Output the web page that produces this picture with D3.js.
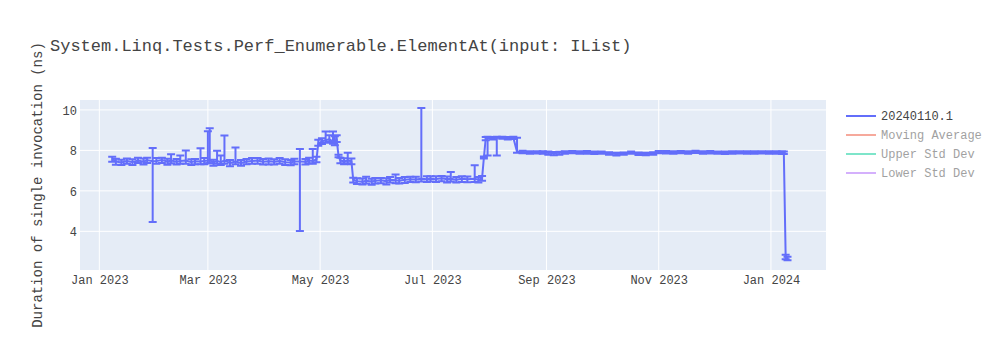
<!DOCTYPE html>
<html>
<head>
<meta charset="utf-8">
<script src="https://cdn.jsdelivr.net/npm/d3@7"></script>
<style>
body{margin:0;background:#fff;}
text{font-family:"Liberation Mono","Courier New",monospace;fill:#444;}
</style>
</head>
<body>
<svg id="mainSVG" width="1000" height="350"></svg>
<script>
var $svg = d3.select("#mainSVG");

var chartTitle = "System.Linq.Tests.Perf_Enumerable.ElementAt(input: IList)";
var yTitle = "Duration of single invocation (ns)";
var legendNames = ["20240110.1","Moving Average","Upper Std Dev","Lower Std Dev"];
var legendColors = ["#636efa","#EF553B","#00cc96","#ab63fa"];
var legendOpacity = [1,.5,.5,.5];
var yTicks = [4,6,8,10];
var xRange = ["2022-12-21T12:00","2024-01-30T22:00"];
var yRange = [2.09,10.49];

var dates = [
 "2023-01-08","2023-01-10","2023-01-13","2023-01-16","2023-01-19","2023-01-22","2023-01-25","2023-01-27","2023-01-30",
 "2023-02-01","2023-02-04","2023-02-07","2023-02-09","2023-02-12","2023-02-14","2023-02-17","2023-02-20","2023-02-22","2023-02-25","2023-02-27",
 "2023-03-01","2023-03-02","2023-03-04","2023-03-06","2023-03-08","2023-03-10","2023-03-13","2023-03-16","2023-03-19","2023-03-22","2023-03-25","2023-03-28","2023-03-31",
 "2023-04-03","2023-04-06","2023-04-09","2023-04-12","2023-04-15","2023-04-17","2023-04-20","2023-04-23","2023-04-25","2023-04-27","2023-04-29","2023-04-30",
 "2023-05-02","2023-05-04","2023-05-06","2023-05-08","2023-05-09","2023-05-10","2023-05-11","2023-05-12","2023-05-14","2023-05-16","2023-05-18","2023-05-19",
 "2023-05-21","2023-05-24","2023-05-26","2023-05-29","2023-05-31",
 "2023-06-03","2023-06-06","2023-06-08","2023-06-11","2023-06-13","2023-06-16","2023-06-19","2023-06-22","2023-06-25","2023-06-28","2023-06-30",
 "2023-07-03","2023-07-06","2023-07-09","2023-07-11","2023-07-14","2023-07-17","2023-07-20","2023-07-24","2023-07-26","2023-07-28","2023-07-29","2023-07-30","2023-07-31",
 "2023-08-03","2023-08-05","2023-08-08","2023-08-11","2023-08-14","2023-08-16","2023-08-19","2023-08-23","2023-08-27","2023-08-30",
 "2023-09-02","2023-09-05","2023-09-08","2023-09-11","2023-09-15","2023-09-19","2023-09-23","2023-09-27",
 "2023-10-01","2023-10-05","2023-10-09","2023-10-13","2023-10-17","2023-10-21","2023-10-25","2023-10-29",
 "2023-11-01","2023-11-05","2023-11-09","2023-11-13","2023-11-17","2023-11-21","2023-11-25","2023-11-29",
 "2023-12-03","2023-12-07","2023-12-11","2023-12-15","2023-12-19","2023-12-23","2023-12-27","2023-12-31",
 "2024-01-04","2024-01-07","2024-01-08","2024-01-09","2024-01-10"
];
var values = [
 7.58,7.45,7.40,7.48,7.42,7.50,7.44,7.52,7.46,
 7.48,7.52,7.45,7.50,7.44,7.48,7.50,7.42,7.46,7.45,7.48,
 7.50,7.52,7.40,7.48,7.42,7.50,7.38,7.45,7.38,7.45,7.48,7.50,7.44,
 7.46,7.44,7.48,7.42,7.40,7.45,7.45,7.44,7.50,7.48,7.55,8.35,
 8.45,8.50,8.55,8.45,8.40,8.55,7.72,7.50,7.45,7.50,7.46,6.55,
 6.48,6.45,6.50,6.46,6.50,
 6.52,6.48,6.55,6.52,6.50,6.55,6.58,6.56,6.60,6.58,6.60,
 6.58,6.62,6.57,6.60,6.55,6.60,6.57,6.60,6.55,6.62,7.65,8.60,8.62,
 8.60,8.62,8.63,8.60,8.62,7.93,7.92,7.90,7.91,7.90,
 7.88,7.86,7.88,7.90,7.92,7.90,7.91,7.88,
 7.90,7.85,7.82,7.84,7.90,7.84,7.82,7.85,
 7.92,7.91,7.90,7.92,7.90,7.93,7.90,7.91,
 7.90,7.89,7.90,7.91,7.90,7.90,7.91,7.90,
 7.90,7.90,7.88,2.72,2.65
];
var errHi = [
 .10,.14,.14,.12,.14,.14,.16,.12,.66,
 .14,.12,.14,.31,.14,.27,.50,.14,.12,.65,.14,
 1.45,1.57,.14,.50,.33,1.23,.14,.69,.14,.12,.14,.12,.14,
 .14,.12,.14,.14,.12,.14,.62,.14,.14,.59,.14,.17,
 .15,.43,.20,.48,.30,.20,.06,.14,.16,.38,.14,.10,
 .14,.16,.20,.14,.14,
 .12,.14,.14,.29,.14,.14,.12,.14,3.50,.14,.12,
 .14,.12,.14,.33,.14,.12,.14,.66,.14,.12,.05,.06,.05,
 .06,.05,.05,.06,.05,.69,.06,.06,.05,.06,
 .06,.06,.05,.06,.05,.06,.06,.06,
 .05,.06,.06,.06,.05,.06,.06,.06,
 .05,.06,.06,.05,.06,.05,.06,.06,
 .05,.06,.06,.05,.06,.06,.05,.06,
 .06,.05,.06,.12,.10
];
var errLo = [
 .14,.16,.12,.14,.14,.12,.14,.14,3.00,
 .14,.14,.16,.14,.14,.14,.16,.14,.14,.14,.16,
 .14,.16,.16,.14,.14,.16,.16,.14,.14,.14,.14,.16,.14,
 .16,.14,.14,.14,.14,.14,3.43,.14,.14,.14,.14,.12,
 .14,.12,.14,.12,.14,.14,.06,.14,.14,.14,.14,.14,
 .14,.14,.14,.16,.14,
 .14,.16,.14,.14,.14,.16,.14,.14,.14,.14,.14,
 .14,.14,.16,.14,.14,.16,.14,.16,.14,.12,.05,.10,.87,
 .06,.87,.06,.06,.06,.05,.06,.06,.06,.07,
 .10,.10,.10,.07,.06,.06,.07,.06,
 .06,.07,.07,.06,.06,.07,.06,.07,
 .06,.06,.07,.06,.06,.06,.07,.06,
 .06,.07,.06,.06,.07,.06,.06,.07,
 .06,.06,.06,.10,.08
];

var margin = {l:80, t:100, r:174, b:80};
var W = 1000, H = 350;
var capW = 4;
var lineColor = legendColors[0];

var parseDate = d3.utcParse("%Y-%m-%d");
var parseRange = d3.utcParse("%Y-%m-%dT%H:%M");
var points = dates.map((d,i)=>({date:parseDate(d), v:values[i], hi:errHi[i], lo:errLo[i]}));

var x = d3.scaleUtc()
    .domain(xRange.map(parseRange))
    .range([margin.l, W-margin.r]);
var y = d3.scaleLinear()
    .domain(yRange)
    .range([H-margin.b, margin.t]);

// Plot background
$svg.append('rect')
    .attr('x',margin.l).attr('y',margin.t)
    .attr('width',W-margin.l-margin.r)
    .attr('height',H-margin.t-margin.b)
    .attr('fill','#E5ECF6');

// Grid
var xTicks = x.ticks(d3.utcMonth.every(2));
$svg.append('g').selectAll('line').data(xTicks).enter().append('line')
    .attr('x1',d=>x(d)).attr('x2',d=>x(d))
    .attr('y1',margin.t).attr('y2',H-margin.b)
    .attr('stroke','#fff').attr('stroke-width',1);
$svg.append('g').selectAll('line').data(yTicks).enter().append('line')
    .attr('x1',margin.l).attr('x2',W-margin.r)
    .attr('y1',d=>y(d)).attr('y2',d=>y(d))
    .attr('stroke','#fff').attr('stroke-width',1);

// Axes
var xAxis = $svg.append('g')
    .attr('transform',`translate(0 ${H-margin.b})`)
    .call(d3.axisBottom(x).tickValues(xTicks).tickFormat(d3.utcFormat('%b %Y')).tickSize(0).tickPadding(5));
var yAxis = $svg.append('g')
    .attr('transform',`translate(${margin.l} 0)`)
    .call(d3.axisLeft(y).tickValues(yTicks).tickSize(0).tickPadding(3));
[xAxis,yAxis].forEach(a=>{
    a.select('.domain').remove();
    a.selectAll('text').attr('font-size',12).attr('font-family',null).style('fill','#444');
});
yAxis.selectAll('text').attr('dy','0.35em');

// Error bars and line, clipped to the plot area
$svg.append('clipPath').attr('id','plotClip').append('rect')
    .attr('x',margin.l).attr('y',margin.t)
    .attr('width',W-margin.l-margin.r)
    .attr('height',H-margin.t-margin.b);
var $plot = $svg.append('g').attr('clip-path','url(#plotClip)');

$plot.append('g').selectAll('path').data(points).enter().append('path')
    .attr('d',d=>{
        let px = x(d.date), y1 = y(d.v+d.hi), y2 = y(d.v-d.lo);
        return `M ${px-capW} ${y1} H ${px+capW} M ${px} ${y1} V ${y2} M ${px-capW} ${y2} H ${px+capW}`;
    })
    .attr('stroke',lineColor).attr('stroke-width',2).attr('fill','none');

$plot.append('path').datum(points)
    .attr('d',d3.line().x(d=>x(d.date)).y(d=>y(d.v)))
    .attr('stroke',lineColor).attr('stroke-width',2)
    .attr('stroke-linejoin','round').attr('fill','none');

// Titles
$svg.append('text')
    .attr('x',50).attr('y',51)
    .attr('font-size',17)
    .text(chartTitle);
$svg.append('text')
    .attr('transform',`translate(42 ${(margin.t+H-margin.b)/2}) rotate(-90)`)
    .attr('text-anchor','middle')
    .attr('font-size',14)
    .text(yTitle);

// Legend
var $legend = $svg.append('g').selectAll('g').data(legendNames).enter().append('g')
    .attr('transform',(d,i)=>`translate(846 ${116+19*i})`)
    .attr('opacity',(d,i)=>legendOpacity[i]);
$legend.append('line')
    .attr('x1',0).attr('x2',30)
    .attr('stroke',(d,i)=>legendColors[i]).attr('stroke-width',2);
$legend.append('text')
    .attr('x',35).attr('y',4)
    .attr('font-size',12)
    .text(d=>d);
</script>
</body>
</html>
